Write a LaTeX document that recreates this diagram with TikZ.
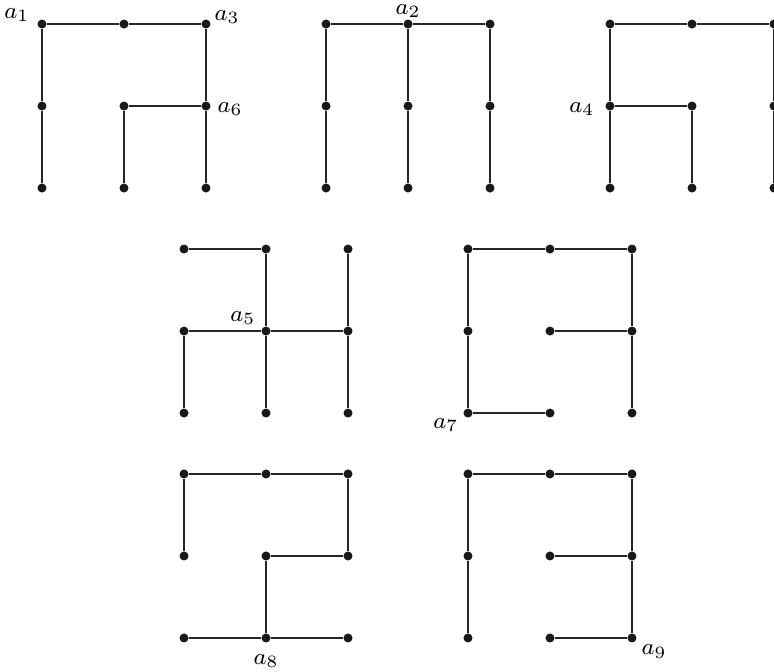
\documentclass[tikz,border=0pt]{standalone}
\usepackage{tikz}

\begin{document}
\begin{tikzpicture}[font=\footnotesize,
  dot/.style={circle,fill=black!90,inner sep=0pt,minimum size=0.11cm},
  edge/.style={line width=0.7pt,black!85},
  lbl/.style={inner sep=0pt}]
  \useasboundingbox (0,0) rectangle (9.439,-8.183);
  % the seven 3x3 grids of points
  \foreach \g/\ox/\oy in {A/0.512/-0.293,B/3.976/-0.293,C/7.439/-0.293,
                          D/2.244/-3.037,E/5.707/-3.037,
                          F/2.244/-5.780,G/5.707/-5.780}
    \foreach \i in {1,2,3}
      \foreach \j in {1,2,3}
        \node[dot] (\g\i\j) at ({\ox+\i-1},{\oy-\j+1}) {};

  % a1
  \draw[edge] (A13) -- (A12) -- (A11) -- (A21) -- (A31) -- (A32) -- (A33);
  \draw[edge] (A23) -- (A22) -- (A32);
  % a2
  \draw[edge] (B11) -- (B21) -- (B31);
  \foreach \i in {1,2,3}
    \draw[edge] (B\i1) -- (B\i2) -- (B\i3);
  % a4
  \draw[edge] (C13) -- (C12) -- (C11) -- (C21) -- (C31) -- (C32) -- (C33);
  \draw[edge] (C12) -- (C22) -- (C23);
  % a5
  \draw[edge] (D11) -- (D21) -- (D22) -- (D23);
  \draw[edge] (D13) -- (D12) -- (D22) -- (D32);
  \draw[edge] (D31) -- (D32) -- (D33);
  % a7
  \draw[edge] (E23) -- (E13) -- (E12) -- (E11) -- (E21) -- (E31) -- (E32) -- (E33);
  \draw[edge] (E22) -- (E32);
  % a8
  \draw[edge] (F12) -- (F11) -- (F21) -- (F31) -- (F32) -- (F22) -- (F23);
  \draw[edge] (F13) -- (F23) -- (F33);
  % a9
  \draw[edge] (G13) -- (G12) -- (G11) -- (G21) -- (G31) -- (G32) -- (G33) -- (G23);
  \draw[edge] (G22) -- (G32);

  % labels
  \node[lbl,anchor=base east] (la1) at ([shift={(-0.146,0.073)}]A11) {$a_1$};
  \node[lbl,anchor=base]      (la2) at ([shift={(0,0.122)}]B21) {$a_2$};
  \node[lbl,anchor=base west] (la3) at ([shift={(0.098,0.049)}]A31) {$a_3$};
  \node[lbl,anchor=base east] (la4) at ([shift={(-0.183,-0.073)}]C12) {$a_4$};
  \node[lbl,anchor=base east] (la5) at ([shift={(-0.122,0.122)}]D22) {$a_5$};
  \node[lbl,anchor=base west] (la6) at ([shift={(0.134,-0.073)}]A32) {$a_6$};
  \node[lbl,anchor=base east] (la7) at ([shift={(-0.110,-0.183)}]E13) {$a_7$};
  \node[lbl,anchor=base]      (la8) at ([shift={(0,-0.32)}]F23) {$a_8$};
  \node[lbl,anchor=base west] (la9) at ([shift={(0.110,-0.207)}]G33) {$a_9$};
\end{tikzpicture}
\end{document}
